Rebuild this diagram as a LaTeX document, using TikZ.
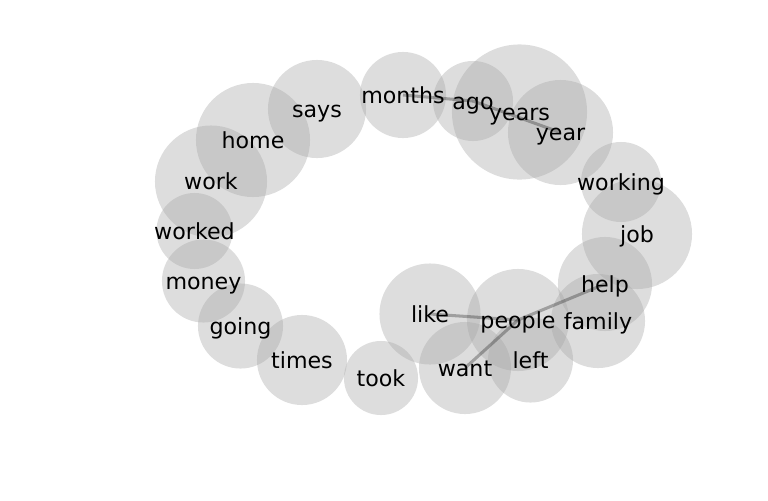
\documentclass[tikz,border=0pt]{standalone}
\usepackage{fontspec}
\setmainfont{DejaVu Sans}
\definecolor{bubblegray}{RGB}{166,166,166}
\tikzset{
  bubble/.style={circle, fill=bubblegray, fill opacity=0.38, draw=none, inner sep=0pt},
  word/.style={text=black, inner sep=0pt, text height=12.2pt, text depth=2.8pt, yshift=-1.4pt, font=\fontsize{16}{19}\selectfont},
  link/.style={draw=black, draw opacity=0.28, line width=2.2pt}
}
\newcommand\bub[4]{\node[bubble, minimum size=#4*0.02in] (#1) at (#2,#3) {};}
\newcommand\wrd[1]{\node[word] (t-#1) at (#1.center) {#1};}
\begin{document}
\begin{tikzpicture}[x=0.01in, y=-0.01in]
\useasboundingbox (0,0) rectangle (768,500);
% bubbles
\bub{months}{403}{95}{43}
\bub{ago}{473}{101}{40}
\bub{years}{519.5}{112}{67.5}
\bub{year}{560.5}{132.5}{52.5}
\bub{working}{621}{182}{40}
\bub{job}{637}{234}{55}
\bub{help}{605}{284}{47}
\bub{family}{598}{321}{47}
\bub{people}{518}{320}{51}
\bub{left}{530.5}{360}{42.5}
\bub{like}{430}{314}{50.5}
\bub{want}{465}{368}{46}
\bub{took}{381}{378}{37}
\bub{times}{302}{360}{45}
\bub{going}{240.5}{326}{42.5}
\bub{money}{203.5}{281}{41.5}
\bub{worked}{194.5}{231}{38}
\bub{work}{211}{181.5}{56}
\bub{home}{253}{140}{57}
\bub{says}{317}{109}{49}
% connectors
\draw[link] (months.center) -- (ago.center);
\draw[link] (ago.center) -- (year.center);
\draw[link] (like.center) -- (people.center);
\draw[link] (people.center) -- (help.center);
\draw[link] (people.center) -- (want.center);
% words
\wrd{months}\wrd{ago}\wrd{years}\wrd{year}\wrd{working}\wrd{job}
\wrd{help}\wrd{family}\wrd{people}\wrd{left}\wrd{like}\wrd{want}
\wrd{took}\wrd{times}\wrd{going}\wrd{money}\wrd{worked}\wrd{work}
\wrd{home}\wrd{says}
\end{tikzpicture}
\end{document}
